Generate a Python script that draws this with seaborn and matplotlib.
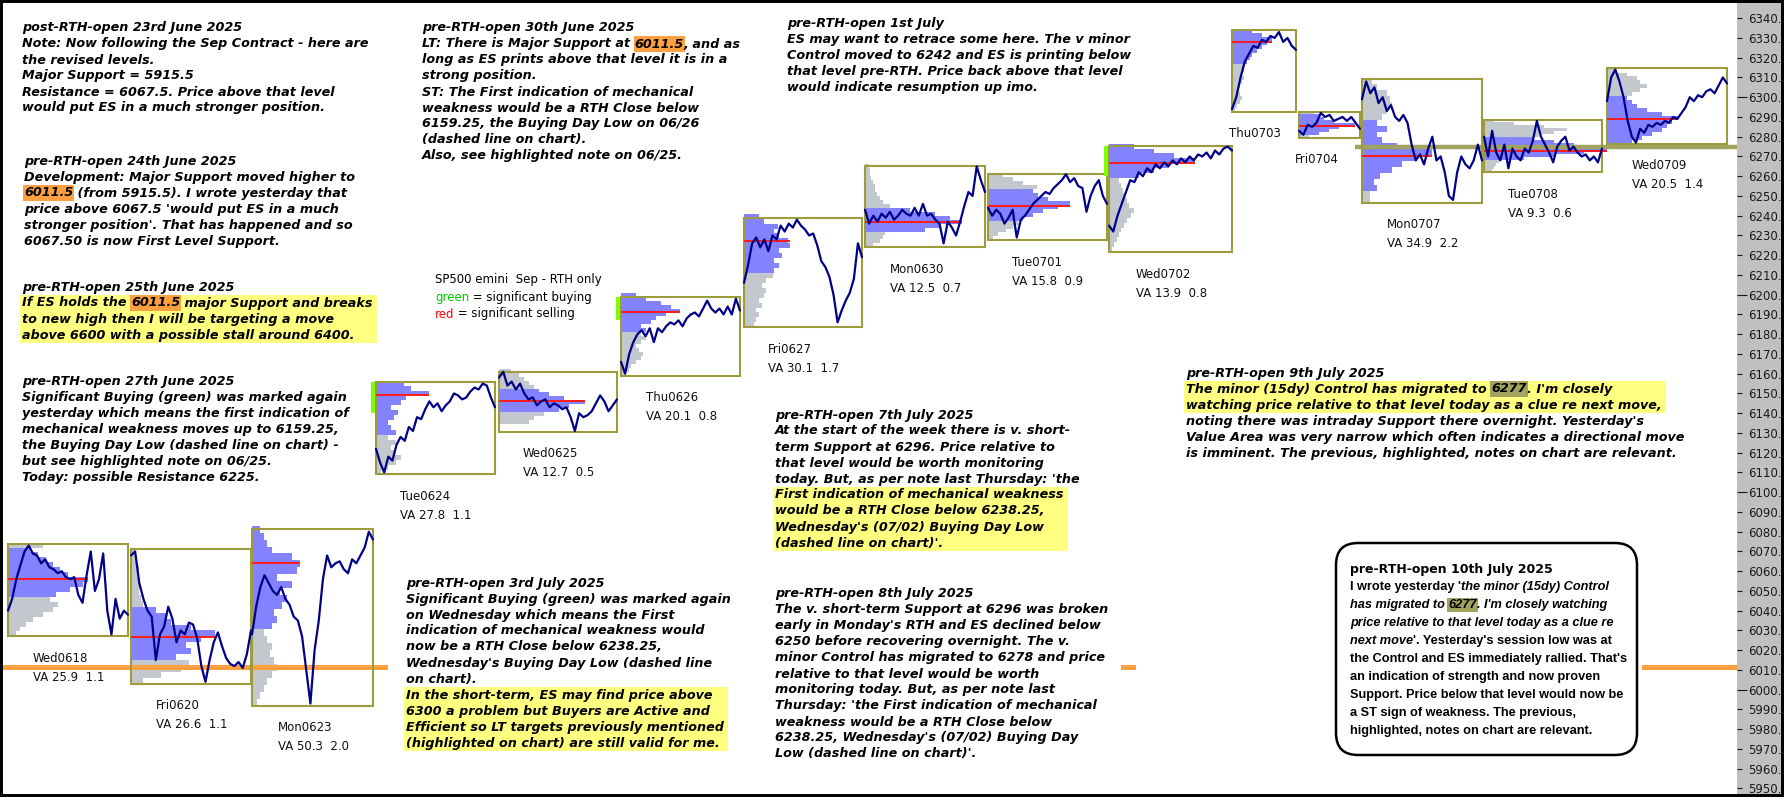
import re
import matplotlib
matplotlib.use("Agg")
import matplotlib.pyplot as plt
from matplotlib.patches import Rectangle, FancyBboxPatch
from matplotlib.transforms import IdentityTransform
from matplotlib.font_manager import FontProperties
from matplotlib.ticker import MultipleLocator, FuncFormatter
import numpy as np
import pandas as pd
import seaborn as sns

W, H = 1784, 797

# --- sessions (ES Sep contract, RTH only) ---
days = ["Wed0618", "Fri0620", "Mon0623", "Tue0624", "Wed0625", "Thu0626", "Fri0627",
        "Mon0630", "Tue0701", "Wed0702", "Thu0703", "Fri0704", "Mon0707", "Tue0708", "Wed0709"]
day_x0 = [8, 131, 252, 376, 499, 621, 744, 865, 988, 1109, 1232, 1299, 1362, 1484, 1607]
day_x1 = [128, 251, 373, 495, 617, 740, 862, 985, 1107, 1232, 1296, 1360, 1482, 1602, 1727]
day_high = [6074, 6071, 6081.5, 6156, 6161, 6199, 6239, 6265, 6261, 6275.5, 6334, 6292.6, 6309, 6288.6, 6315]
day_low = [6027, 6003, 5992, 6109, 6130.5, 6159, 6183.5, 6224, 6227.5, 6221.5, 6292.6, 6279.5, 6246.6, 6262, 6276.5]
day_poc = [6056, 6026.5, 6064, 6149, 6146, 6191, 6227, 6236.6, 6245, 6266.5, 6328, 6285.6, 6270, 6273, 6289]
va_low = [6045, 6014, 6030, 6128, 6139, 6180, 6209, 6231.5, 6237, 6259, 6315, 6280.5, 6252, 6267.5, 6276.5]
va_high = [6070, 6040, 6081, 6156, 6152, 6199, 6239, 6243, 6253, 6275.5, 6334, 6290.5, 6287.6, 6279.7, 6300]
va_text = ["VA 25.9  1.1", "VA 26.6  1.1", "VA 50.3  2.0", "VA 27.8  1.1", "VA 12.7  0.5",
           "VA 20.1  0.8", "VA 30.1  1.7", "VA 12.5  0.7", "VA 15.8  0.9", "VA 13.9  0.8",
           "", "", "VA 34.9  2.2", "VA 9.3  0.6", "VA 20.5  1.4"]

# significant buying marks (green)
buying_days = ["Tue0624", "Thu0626", "Wed0702"]
buying_low = [6140, 6187, 6260]
buying_high = [6156, 6199, 6275.5]

major_support = 6011.5
control_level = 6275

# volume profile: bar widths from the session low upward, one bar per step
profile_step = [2.5, 3, 3.5, 2.5, 2, 2, 2.5, 2, 2, 2.5, 2, 1.5, 3, 1.5, 2]
profiles = {
    "Wed0618": [8, 12, 18, 25, 35, 45, 50, 42, 48, 62, 75, 80, 60, 52, 45, 38, 30, 22, 35],
    "Fri0620": [12, 30, 50, 58, 45, 60, 55, 70, 84, 60, 40, 35, 25, 12, 10, 8, 10, 7, 6, 8, 6, 5, 4],
    "Mon0623": [5, 8, 12, 15, 20, 25, 22, 18, 20, 15, 12, 20, 25, 22, 30, 35, 28, 40, 25, 45, 48,
                40, 20, 15, 12, 8],
    "Tue0624": [5, 12, 20, 25, 18, 15, 20, 12, 20, 15, 12, 18, 22, 15, 25, 30, 53, 35, 28],
    "Wed0625": [0, 0, 30, 35, 45, 60, 70, 86, 65, 50, 40, 35, 30, 25, 20, 12],
    "Thu0626": [5, 8, 10, 15, 20, 22, 18, 15, 20, 25, 20, 25, 20, 30, 35, 45, 59, 50, 40, 25, 15],
    "Fri0627": [10, 12, 15, 12, 18, 15, 20, 22, 18, 22, 29, 30, 35, 30, 38, 35, 46, 44, 35, 30, 34, 20, 15],
    "Mon0630": [8, 15, 18, 20, 60, 75, 97, 85, 70, 45, 25, 18, 15, 12, 10, 10, 8, 6, 5, 5, 4],
    "Tue0701": [5, 10, 18, 25, 30, 35, 45, 55, 70, 82, 60, 50, 45, 49, 35, 25, 15],
    "Wed0702": [3, 5, 8, 10, 12, 15, 18, 22, 25, 20, 18, 15, 14, 12, 10, 30, 45, 60, 86, 65, 45, 25],
    "Thu0703": [3, 5, 8, 10, 8, 6, 8, 10, 12, 10, 12, 12, 15, 18, 20, 25, 30, 35, 40, 30, 20],
    "Fri0704": [10, 20, 30, 40, 56, 35, 25, 20, 15],
    "Mon0707": [8, 8, 15, 12, 18, 30, 40, 55, 70, 35, 20, 15, 25, 15, 20, 25, 30, 28, 25, 15, 10],
    "Tue0708": [8, 10, 12, 15, 40, 70, 100, 123, 115, 90, 70, 50, 55, 70, 83, 60, 30, 10],
    "Wed0709": [25, 35, 45, 55, 60, 65, 71, 55, 40, 30, 25, 20, 25, 33, 40, 33, 30, 20, 10],
}

# intraday price path of each session, evenly spaced through the session
paths = {
    "Wed0618": [6040, 6046, 6056, 6063, 6070, 6073, 6069, 6068, 6064, 6066, 6062, 6061, 6059, 6060, 6057,
                6056, 6057, 6048, 6044, 6058, 6070, 6050, 6056, 6069, 6040, 6028, 6046, 6036, 6040, 6038],
    "Fri0620": [6068, 6070, 6054, 6046, 6040, 6037, 6015, 6028, 6032, 6042, 6036, 6024, 6030, 6028, 6034,
                6033, 6026, 6012, 6004, 6015, 6024, 6029, 6022, 6016, 6013, 6012, 6014, 6011, 6018, 6030],
    "Mon0623": [6028, 6042, 6052, 6058, 6054, 6050, 6048, 6052, 6046, 6043, 6037, 6035, 6027, 6010, 5993,
                6020, 6035, 6056, 6068, 6062, 6064, 6065, 6061, 6059, 6066, 6064, 6068, 6072, 6080, 6076],
    "Tue0624": [6122, 6115, 6110, 6118, 6116, 6124, 6128, 6126, 6133, 6131, 6138, 6137, 6142, 6146, 6143,
                6145, 6141, 6144, 6146, 6150, 6149, 6147, 6148, 6151, 6153, 6152, 6155, 6154, 6148, 6143],
    "Wed0625": [6158, 6161, 6154, 6156, 6152, 6155, 6150, 6147, 6148, 6144, 6146, 6147, 6143, 6145, 6144,
                6142, 6143, 6138, 6131, 6140, 6138, 6139, 6141, 6145, 6149, 6146, 6141, 6144, 6147],
    "Thu0626": [6166, 6160, 6170, 6176, 6180, 6182, 6179, 6183, 6176, 6183, 6181, 6184, 6186, 6185, 6187,
                6184, 6188, 6190, 6191, 6189, 6193, 6197, 6193, 6191, 6193, 6190, 6194, 6190, 6198, 6192],
    "Fri0627": [6206, 6215, 6226, 6229, 6224, 6228, 6222, 6230, 6228, 6235, 6232, 6236, 6234, 6238, 6235,
                6233, 6230, 6231, 6225, 6217, 6214, 6209, 6200, 6186, 6192, 6197, 6201, 6208, 6226, 6219],
    "Mon0630": [6243, 6236, 6240, 6237, 6241, 6239, 6242, 6238, 6240, 6243, 6241, 6240, 6244, 6240, 6246,
                6240, 6241, 6238, 6236, 6226, 6237, 6234, 6230, 6237, 6245, 6252, 6250, 6265, 6258, 6252],
    "Tue0701": [6244, 6240, 6243, 6241, 6236, 6239, 6243, 6229, 6238, 6240, 6243, 6246, 6248, 6250, 6252,
                6251, 6254, 6256, 6258, 6261, 6257, 6259, 6255, 6254, 6242, 6250, 6255, 6258, 6250, 6246],
    "Wed0702": [6235, 6232, 6240, 6246, 6252, 6258, 6257, 6262, 6260, 6264, 6262, 6266, 6264, 6267, 6265,
                6268, 6266, 6269, 6267, 6270, 6268, 6271, 6270, 6272, 6269, 6273, 6271, 6274, 6275, 6273],
    "Thu0703": [6294, 6300, 6310, 6318, 6322, 6326, 6325, 6329, 6328, 6331, 6330, 6333, 6328, 6330, 6326, 6324],
    "Fri0704": [6283, 6281, 6286, 6285, 6287, 6292, 6290, 6291, 6288, 6289, 6290, 6288, 6290, 6287, 6284],
    "Mon0707": [6299, 6308, 6302, 6305, 6297, 6300, 6293, 6296, 6290, 6288, 6291, 6287, 6276, 6268, 6271,
                6266, 6274, 6280, 6268, 6270, 6262, 6250, 6248, 6262, 6270, 6266, 6264, 6268, 6276, 6268],
    "Tue0708": [6280, 6270, 6283, 6272, 6268, 6276, 6264, 6274, 6270, 6268, 6274, 6272, 6278, 6288, 6280,
                6276, 6272, 6267, 6275, 6278, 6280, 6273, 6275, 6272, 6270, 6271, 6268, 6270, 6267, 6274],
    "Wed0709": [6298, 6310, 6314, 6308, 6300, 6288, 6280, 6277, 6284, 6282, 6286, 6285, 6287, 6286, 6288,
                6287, 6290, 6289, 6292, 6295, 6300, 6298, 6301, 6300, 6303, 6304, 6302, 6306, 6310, 6307],
}

# --- notes written on the chart ---
note_0623 = ["post-RTH-open 23rd June 2025",
             "Note: Now following the Sep Contract - here are",
             "the revised levels.",
             "Major Support = 5915.5",
             "Resistance = 6067.5. Price above that level",
             "would put ES in a much stronger position."]
note_0624 = ["pre-RTH-open 24th June 2025",
             "Development: Major Support moved higher to",
             "<o>6011.5</o> (from 5915.5). I wrote yesterday that",
             "price above 6067.5 'would put ES in a much",
             "stronger position'. That has happened and so",
             "6067.50 is now First Level Support."]
note_0625 = ["pre-RTH-open 25th June 2025",
             "If ES holds the <o>6011.5</o> major Support and breaks",
             "to new high then I will be targeting a move",
             "above 6600 with a possible stall around 6400."]
note_0627 = ["pre-RTH-open 27th June 2025",
             "Significant Buying (green) was marked again",
             "yesterday which means the first indication of",
             "mechanical weakness moves up to 6159.25,",
             "the Buying Day Low (dashed line on chart) -",
             "but see highlighted note on 06/25.",
             "Today: possible Resistance 6225."]
note_0630 = ["pre-RTH-open 30th June 2025",
             "LT: There is Major Support at <o>6011.5</o>, and as",
             "long as ES prints above that level it is in a",
             "strong position.",
             "ST: The First indication of mechanical",
             "weakness would be a RTH Close below",
             "6159.25, the Buying Day Low on 06/26",
             "(dashed line on chart).",
             "Also, see highlighted note on 06/25."]
legend_lines = ["SP500 emini  Sep - RTH only",
                "<G>green</G> = significant buying",
                "<R>red</R> = significant selling"]
note_0701 = ["pre-RTH-open 1st July",
             "ES may want to retrace some here. The v minor",
             "Control moved to 6242 and ES is printing below",
             "that level pre-RTH. Price back above that level",
             "would indicate resumption up imo."]
note_0703 = ["pre-RTH-open 3rd July 2025",
             "Significant Buying (green) was marked again",
             "on Wednesday which means the First",
             "indication of mechanical weakness would",
             "now be a RTH Close below 6238.25,",
             "Wednesday's Buying Day Low (dashed line",
             "on chart).",
             "In the short-term, ES may find price above",
             "6300 a problem but Buyers are Active and",
             "Efficient so LT targets previously mentioned",
             "(highlighted on chart) are still valid for me."]
note_0707 = ["pre-RTH-open 7th July 2025",
             "At the start of the week there is v. short-",
             "term Support at 6296. Price relative to",
             "that level would be worth monitoring",
             "today. But, as per note last Thursday: 'the",
             "First indication of mechanical weakness",
             "would be a RTH Close below 6238.25,",
             "Wednesday's (07/02) Buying Day Low",
             "(dashed line on chart)'."]
note_0708 = ["pre-RTH-open 8th July 2025",
             "The v. short-term Support at 6296 was broken",
             "early in Monday's RTH and ES declined below",
             "6250 before recovering overnight. The v.",
             "minor Control has migrated to 6278 and price",
             "relative to that level would be worth",
             "monitoring today. But, as per note last",
             "Thursday: 'the First indication of mechanical",
             "weakness would be a RTH Close below",
             "6238.25, Wednesday's (07/02) Buying Day",
             "Low (dashed line on chart)'."]
note_0709 = ["pre-RTH-open 9th July 2025",
             "The minor (15dy) Control has migrated to <k>6277</k>. I'm closely",
             "watching price relative to that level today as a clue re next move,",
             "noting there was intraday Support there overnight. Yesterday's",
             "Value Area was very narrow which often indicates a directional move",
             "is imminent. The previous, highlighted, notes on chart are relevant."]
note_0710 = ["pre-RTH-open 10th July 2025",
             "I wrote yesterday '<i>the minor (15dy) Control</i>",
             "<i>has migrated to </i><ik>6277</ik><i>. I'm closely watching</i>",
             "<i>price relative to that level today as a clue re</i>",
             "<i>next move</i>'. Yesterday's session low was at",
             "the Control and ES immediately rallied. That's",
             "an indication of strength and now proven",
             "Support. Price below that level would now be",
             "a ST sign of weakness. The previous,",
             "highlighted, notes on chart are relevant."]

NAVY = "#000088"
BLUE = "#8383ff"
GREY = "#c3c7ce"
BOX = "#9c9c3c"
RED = "#ff1a1a"
LIME = "#80ff00"
ORANGE = "#ffa040"
OLIVE = "#a2a35e"
YELLOW = "#ffff80"

sns.set_theme(style="white")
plt.rcParams["font.family"] = ["DejaVu Sans"]

fig = plt.figure(figsize=(W / 100, H / 100), dpi=100, facecolor="#c0c0c0")
ax = fig.add_axes([3 / W, 3 / H, (1737 - 3) / W, (794 - 3) / H])
ax.set_facecolor("white")
ax.set_xlim(3, 1737)
ax.set_ylim(5947.2, 6347.7)
for s in ax.spines.values():
    s.set_visible(False)
ax.set_xticks([])
ax.yaxis.tick_right()
ax.yaxis.set_major_locator(MultipleLocator(100))
ax.yaxis.set_minor_locator(MultipleLocator(10))
fmt = FuncFormatter(lambda v, p: f"{v:.0f}.")
ax.yaxis.set_major_formatter(fmt)
ax.yaxis.set_minor_formatter(fmt)
ax.tick_params(axis="y", which="both", right=True, labelright=True, left=False,
               labelleft=False, labelsize=8.5, colors="#1a1a1a", width=0.8)
ax.tick_params(axis="y", which="major", length=7.2, pad=0.7)
ax.tick_params(axis="y", which="minor", length=3.6, pad=4.3)

# volume profiles, point of control, session boxes and labels
for i, d in enumerate(days):
    w = np.array(profiles[d], dtype=float)
    lv = day_low[i] + profile_step[i] * np.arange(len(w))
    inside = (lv >= va_low[i] - 0.01) & (lv <= va_high[i] + 0.01)
    ax.barh(lv, w, height=profile_step[i], left=day_x0[i], align="edge",
            color=np.where(inside, BLUE, GREY), linewidth=0, zorder=1)
    ax.hlines(day_poc[i], day_x0[i], day_x0[i] + w.max(), color=RED, lw=1.4, zorder=4)
    ax.add_patch(Rectangle((day_x0[i], day_low[i]), day_x1[i] - day_x0[i],
                           day_high[i] - day_low[i], fill=False, ec=BOX, lw=1.5, zorder=3))
    mid = (day_x0[i] + day_x1[i]) / 2
    ax.text(mid - 35, day_low[i] - 11.1, d, fontsize=8.5, va="center", ha="left", color="#111111")
    if va_text[i]:
        ax.text(mid - 35, day_low[i] - 20.7, va_text[i], fontsize=8.5, va="center", ha="left",
                color="#111111")

# significant buying marks
for d, lo, hi in zip(buying_days, buying_low, buying_high):
    x0 = day_x0[days.index(d)]
    ax.bar(x0 - 5, hi - lo, bottom=lo, width=4, align="edge", color=LIME, linewidth=0, zorder=3)

# levels
ax.axhline(major_support, color=ORANGE, lw=3.6, zorder=2.5)
ax.hlines(control_level, day_x0[days.index("Mon0707")] - 7, 1737, color=OLIVE, lw=3.2, zorder=2.5)

# price paths
rows = []
for i, d in enumerate(days):
    p = paths[d]
    xs = np.linspace(day_x0[i], day_x1[i], len(p))
    rows.append(pd.DataFrame({"x": xs, "price": p, "day": d}))
df = pd.concat(rows, ignore_index=True)
sns.lineplot(data=df, x="x", y="price", units="day", estimator=None, color=NAVY,
             lw=1.6, ax=ax, legend=False, zorder=5)
ax.set_xlabel("")
ax.set_ylabel("")

# --- text on the figure, in pixel positions from the top-left corner ---
T = IdentityTransform()
renderer = fig.canvas.get_renderer()


def seg_split(line):
    parts = re.split(r"<(\w+)>(.*?)</\1>", line)
    out = [(parts[0], "")]
    for k in range(1, len(parts), 3):
        out.append((parts[k + 1], parts[k]))
        out.append((parts[k + 2], ""))
    return [(s, t) for s, t in out if s]


def text_width(s, fp):
    w1, _, _ = renderer.get_text_width_height_descent(s + "|", fp, ismath=False)
    w2, _, _ = renderer.get_text_width_height_descent("|", fp, ismath=False)
    return w1 - w2


def add_rect(x0, y0, x1, y1, color, z=1.5):
    fig.add_artist(Rectangle((x0, H - y1), x1 - x0, y1 - y0, transform=T, fc=color,
                             ec="none", zorder=z))


def draw_block(x, y, lines, size=9.2, lh=16, italic=True, weight="bold",
               family="DejaVu Sans", hl=None, first=None):
    widths = []
    for n, line in enumerate(lines):
        cx = x
        yy = H - (y + n * lh)
        fam, sz = family, size
        if n == 0 and first:
            fam, sz = first
        for s, tag in seg_split(line):
            style = "italic" if (italic or "i" in tag) else "normal"
            color = "black"
            if "G" in tag:
                color = "#00c800"
            if "R" in tag:
                color = "#ff0000"
            fp = FontProperties(family=fam, size=sz, style=style, weight=weight)
            t = fig.text(cx, yy, s, transform=T, fontproperties=fp, color=color,
                         va="center", ha="left", zorder=4)
            if "o" in tag or "k" in tag:
                t.set_bbox(dict(boxstyle="square,pad=0.08", fc=ORANGE if "o" in tag else OLIVE,
                                ec="none"))
            cx += text_width(s, fp)
        widths.append(cx - x)
    if hl:
        a, b = hl
        add_rect(x - 2, y + a * lh - lh / 2, x + max(widths[a:b + 1]) + 4,
                 y + b * lh + lh / 2, YELLOW, z=2)
    return widths


# white backing of the lower notes (hides the level line under them)
add_rect(388, 572, 775, 742, "white")
add_rect(775, 584, 1121, 786, "white")
add_rect(1136, 530, 1642, 792, "white")

draw_block(22, 28, note_0623)
draw_block(24, 161, note_0624)
draw_block(22, 287, note_0625, hl=(1, 3))
draw_block(22, 381, note_0627)
draw_block(422, 28, note_0630)
draw_block(435, 280, legend_lines, size=8.5, lh=17, italic=False, weight="normal")
draw_block(787, 23, note_0701)
draw_block(406, 583, note_0703, hl=(7, 10))
draw_block(775, 415, note_0707, hl=(5, 8))
draw_block(775, 594, note_0708)
draw_block(1186, 373, note_0709, hl=(1, 2))

fig.add_artist(FancyBboxPatch((1336, H - 755), 1637 - 1336, 755 - 543, transform=T,
                              boxstyle="round,pad=0,rounding_size=22", fc="white",
                              ec="black", lw=1.8, zorder=3))
draw_block(1350, 569, note_0710, size=9.2, lh=18, italic=False, family="Liberation Sans",
           first=("DejaVu Sans", 9.0))

# outer frame
fig.add_artist(Rectangle((0, 0), W, H, transform=T, fill=False, ec="black", lw=4.3, zorder=10))

fig.savefig("out.png", dpi=100, facecolor=fig.get_facecolor())
